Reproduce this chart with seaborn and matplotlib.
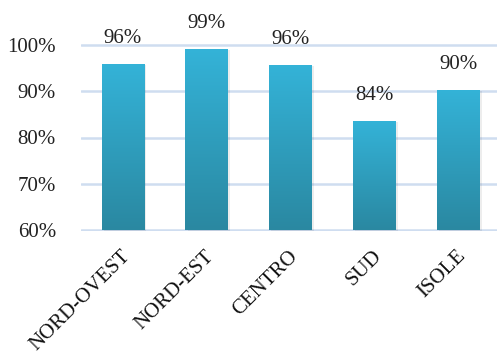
import numpy as np
import pandas as pd
import matplotlib
matplotlib.use("Agg")
import matplotlib.pyplot as plt
import seaborn as sns
from matplotlib.colors import LinearSegmentedColormap
from matplotlib.patches import Rectangle

categories = ["NORD-OVEST", "NORD-EST", "CENTRO", "SUD", "ISOLE"]
values = [95.9, 99.2, 95.7, 83.6, 90.3]
labels = ["96%", "99%", "96%", "84%", "90%"]
yticks = [60, 70, 80, 90, 100]

sns.set_theme(style="white")
plt.rcParams["font.family"] = ["Liberation Serif", "DejaVu Serif"]

fig = plt.figure(figsize=(4.97, 3.56), dpi=100)
ax = fig.add_axes([81/497, (356-231)/356, 1 - 81/497, (231-44)/356])

df = pd.DataFrame({"cat": categories, "val": values})
sns.barplot(data=df, x="cat", y="val", ax=ax, color="#33AED3", width=0.51, zorder=3)

YLO, YHI = 59.8, 100.2
ax.set_ylim(YLO, YHI)
ax.set_xlim(-0.5, 4.458)
ax.set_yticks(yticks)
ax.set_yticklabels([f"{t}%" for t in yticks], fontsize=15, color="#222222")
ax.yaxis.grid(True, color="#CFDDF0", linewidth=1.8, zorder=0)
ax.set_axisbelow(True)
for s in ax.spines.values():
    s.set_visible(False)
ax.tick_params(axis="y", length=0, pad=18)
ax.tick_params(axis="x", length=0, pad=2)
ax.set_xlabel("")
ax.set_ylabel("")
ax.set_xticks(range(len(categories)))
ax.set_xticklabels(categories, rotation=45, ha="right", rotation_mode="anchor",
                   fontsize=15, color="#111111")
for lab in ax.get_xticklabels():
    lab.set_transform(lab.get_transform() + matplotlib.transforms.ScaledTranslation(-2/100, -13/100, fig.dpi_scale_trans))

cmap = LinearSegmentedColormap.from_list("g", ["#2A88A1", "#34B3D8"])
grad = np.linspace(0, 1, 256).reshape(-1, 1)
for p in list(ax.patches):
    x0, y0 = p.get_x(), p.get_y()
    w, h = p.get_width(), p.get_height()
    top = y0 + h
    sh = Rectangle((x0 + 0.025, YLO), w, top - YLO - 0.3, color="#000000", alpha=0.07, zorder=2, lw=0)
    ax.add_patch(sh)
    im = ax.imshow(grad, extent=[x0, x0 + w, 60, top], origin="lower",
                   aspect="auto", cmap=cmap, zorder=3)
    im.set_clip_path(p)
    p.set_facecolor("none")
    p.set_edgecolor("none")

for i, (v, t) in enumerate(zip(values, labels)):
    ax.annotate(t, (i, v), xytext=(0, 25), textcoords="offset pixels",
                ha="center", va="center", fontsize=15, color="#222222", annotation_clip=False)

ax.set_xlim(-0.5, 4.458)
ax.set_ylim(YLO, YHI)
fig.savefig("out.png", dpi=100)
